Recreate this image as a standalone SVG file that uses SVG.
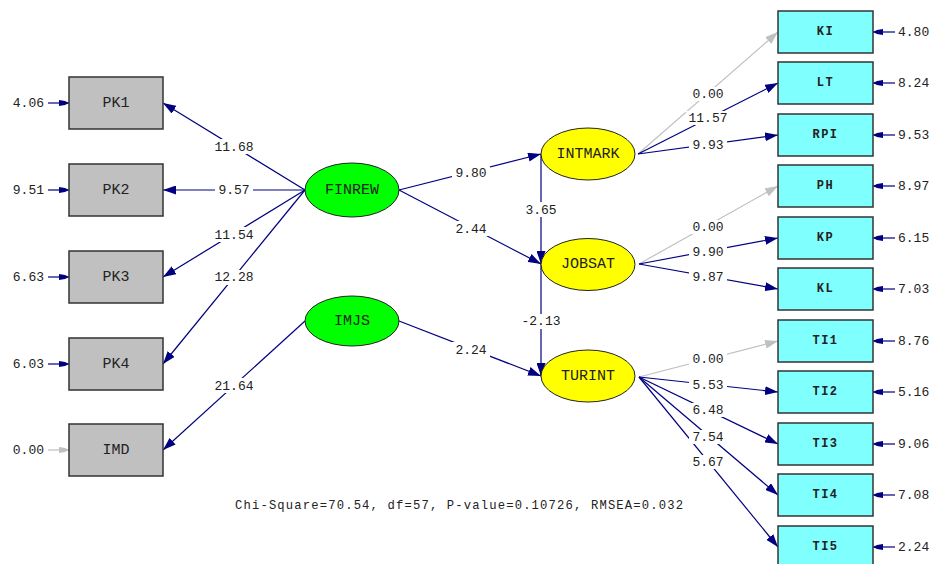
<svg xmlns="http://www.w3.org/2000/svg" width="933" height="564" viewBox="0 0 933 564">
<style>
.bg{fill:#ffffff}
.obs{fill:#c0c0c0;stroke:#333;stroke-width:1.5}
.ind{fill:#80ffff;stroke:#333;stroke-width:1.5}
.lat{fill:#00ff00;stroke:#222;stroke-width:1}
.end{fill:#ffff00;stroke:#222;stroke-width:1}
.nl{font-family:"Liberation Mono",monospace;font-size:15px;fill:#222;text-anchor:middle;dominant-baseline:central}
.rl{font-family:"Liberation Mono",monospace;font-size:12px;font-weight:bold;letter-spacing:1.5px;fill:#222;text-anchor:middle;dominant-baseline:central}
.c{fill:none;stroke:#000080;stroke-width:1.2}
.g{fill:none;stroke:#c0c0c0;stroke-width:1.2}
.lab{font-family:"Liberation Mono",monospace;font-size:13px;fill:#222;text-anchor:middle;dominant-baseline:central}
.lb{fill:#ffffff}
.ev{font-family:"Liberation Mono",monospace;font-size:13px;fill:#222;dominant-baseline:central}
.fit{font-family:"Liberation Mono",monospace;font-size:12.2px;fill:#222}
</style>
<defs>
<marker id="ah" markerUnits="userSpaceOnUse" markerWidth="13" markerHeight="9" refX="13" refY="4.5" orient="auto">
<path d="M0,0 L13,4.5 L0,9 z" fill="#000080"/>
</marker>
<marker id="ahg" markerUnits="userSpaceOnUse" markerWidth="13" markerHeight="9" refX="13" refY="4.5" orient="auto">
<path d="M0,0 L13,4.5 L0,9 z" fill="#c0c0c0"/>
</marker>
<marker id="eh" markerUnits="userSpaceOnUse" markerWidth="12" markerHeight="7" refX="12" refY="3.5" orient="auto">
<path d="M2,0.5 L8,1.5 L12,3.5 L8,5.5 L2,6.5 z" fill="#000080"/>
</marker>
<marker id="ehg" markerUnits="userSpaceOnUse" markerWidth="12" markerHeight="7" refX="12" refY="3.5" orient="auto">
<path d="M2,0.5 L8,1.5 L12,3.5 L8,5.5 L2,6.5 z" fill="#c0c0c0"/>
</marker>
</defs>
<rect class="bg" x="0" y="0" width="933" height="564"/>

<g id="connectors">
<!-- left measurement -->
<line class="c" x1="305" y1="190" x2="163" y2="103" marker-end="url(#ah)"/>
<line class="c" x1="305" y1="190" x2="163" y2="190" marker-end="url(#ah)"/>
<line class="c" x1="305" y1="190" x2="163" y2="277" marker-end="url(#ah)"/>
<line class="c" x1="305" y1="190" x2="163" y2="364" marker-end="url(#ah)"/>
<line class="c" x1="305" y1="321" x2="163" y2="450" marker-end="url(#ah)"/>
<!-- structural -->
<line class="c" x1="399" y1="190" x2="541" y2="154" marker-end="url(#ah)"/>
<line class="c" x1="399" y1="190" x2="541" y2="264" marker-end="url(#ah)"/>
<line class="c" x1="399" y1="321" x2="541" y2="376" marker-end="url(#ah)"/>
<line class="c" x1="541" y1="154" x2="541" y2="264" marker-end="url(#ah)"/>
<line class="c" x1="541" y1="264" x2="541" y2="376" marker-end="url(#ah)"/>
<!-- right measurement -->
<line class="g" x1="638" y1="154" x2="778" y2="32" marker-end="url(#ahg)"/>
<line class="c" x1="638" y1="154" x2="778" y2="83" marker-end="url(#ah)"/>
<line class="c" x1="638" y1="154" x2="778" y2="135" marker-end="url(#ah)"/>
<line class="g" x1="639" y1="264" x2="778" y2="186" marker-end="url(#ahg)"/>
<line class="c" x1="639" y1="264" x2="778" y2="238" marker-end="url(#ah)"/>
<line class="c" x1="639" y1="264" x2="778" y2="289" marker-end="url(#ah)"/>
<line class="g" x1="639" y1="377" x2="778" y2="341" marker-end="url(#ahg)"/>
<line class="c" x1="639" y1="377" x2="778" y2="392" marker-end="url(#ah)"/>
<line class="c" x1="639" y1="377" x2="778" y2="444" marker-end="url(#ah)"/>
<line class="c" x1="639" y1="377" x2="778" y2="495" marker-end="url(#ah)"/>
<line class="c" x1="639" y1="377" x2="778" y2="547" marker-end="url(#ah)"/>
<!-- error arrows left -->
<line class="c" x1="48" y1="103" x2="69" y2="103" marker-end="url(#eh)"/>
<line class="c" x1="48" y1="190" x2="69" y2="190" marker-end="url(#eh)"/>
<line class="c" x1="48" y1="277" x2="69" y2="277" marker-end="url(#eh)"/>
<line class="c" x1="48" y1="364" x2="69" y2="364" marker-end="url(#eh)"/>
<line class="g" x1="48" y1="450" x2="69" y2="450" marker-end="url(#ehg)"/>
<!-- error arrows right -->
<line class="c" x1="895" y1="32" x2="873" y2="32" marker-end="url(#eh)"/>
<line class="c" x1="895" y1="83" x2="873" y2="83" marker-end="url(#eh)"/>
<line class="c" x1="895" y1="135" x2="873" y2="135" marker-end="url(#eh)"/>
<line class="c" x1="895" y1="186" x2="873" y2="186" marker-end="url(#eh)"/>
<line class="c" x1="895" y1="238" x2="873" y2="238" marker-end="url(#eh)"/>
<line class="c" x1="895" y1="289" x2="873" y2="289" marker-end="url(#eh)"/>
<line class="c" x1="895" y1="341" x2="873" y2="341" marker-end="url(#eh)"/>
<line class="c" x1="895" y1="392" x2="873" y2="392" marker-end="url(#eh)"/>
<line class="c" x1="895" y1="444" x2="873" y2="444" marker-end="url(#eh)"/>
<line class="c" x1="895" y1="495" x2="873" y2="495" marker-end="url(#eh)"/>
<line class="c" x1="895" y1="547" x2="873" y2="547" marker-end="url(#eh)"/>

<!-- path labels with white backing -->
<g id="path-labels">
<rect class="lb" x="212" y="139" width="44" height="15"/><text class="lab" x="234" y="147">11.68</text>
<rect class="lb" x="215" y="182" width="38" height="15"/><text class="lab" x="234" y="190">9.57</text>
<rect class="lb" x="212" y="227" width="44" height="15"/><text class="lab" x="234" y="235">11.54</text>
<rect class="lb" x="212" y="270" width="44" height="15"/><text class="lab" x="234" y="277">12.28</text>
<rect class="lb" x="212" y="378" width="44" height="15"/><text class="lab" x="234" y="386">21.64</text>
<rect class="lb" x="452" y="165" width="38" height="15"/><text class="lab" x="471" y="173">9.80</text>
<rect class="lb" x="452" y="221" width="38" height="15"/><text class="lab" x="471" y="229">2.44</text>
<rect class="lb" x="452" y="342" width="38" height="15"/><text class="lab" x="471" y="350">2.24</text>
<rect class="lb" x="522" y="202" width="38" height="15"/><text class="lab" x="541" y="210">3.65</text>
<rect class="lb" x="518" y="314" width="46" height="15"/><text class="lab" x="541" y="321">-2.13</text>
<rect class="lb" x="689" y="87" width="38" height="14"/><text class="lab" x="708" y="94">0.00</text>
<rect class="lb" x="686" y="111" width="44" height="14"/><text class="lab" x="708" y="118">11.57</text>
<rect class="lb" x="689" y="138" width="38" height="14"/><text class="lab" x="708" y="145">9.93</text>
<rect class="lb" x="689" y="220" width="38" height="14"/><text class="lab" x="708" y="227">0.00</text>
<rect class="lb" x="689" y="245" width="38" height="14"/><text class="lab" x="708" y="252">9.90</text>
<rect class="lb" x="689" y="270" width="38" height="14"/><text class="lab" x="708" y="277">9.87</text>
<rect class="lb" x="689" y="352" width="38" height="14"/><text class="lab" x="708" y="359">0.00</text>
<rect class="lb" x="689" y="378" width="38" height="14"/><text class="lab" x="708" y="385">5.53</text>
<rect class="lb" x="689" y="403" width="38" height="14"/><text class="lab" x="708" y="410">6.48</text>
<rect class="lb" x="689" y="430" width="38" height="14"/><text class="lab" x="708" y="437">7.54</text>
<rect class="lb" x="689" y="455" width="38" height="14"/><text class="lab" x="708" y="462">5.67</text>
</g>
</g>

<!-- error variance labels -->
<g id="error-labels">
<text class="ev" x="44" y="103" text-anchor="end">4.06</text>
<text class="ev" x="44" y="190" text-anchor="end">9.51</text>
<text class="ev" x="44" y="277" text-anchor="end">6.63</text>
<text class="ev" x="44" y="364" text-anchor="end">6.03</text>
<text class="ev" x="44" y="450" text-anchor="end">0.00</text>
<text class="ev" x="898" y="32">4.80</text>
<text class="ev" x="898" y="83">8.24</text>
<text class="ev" x="898" y="135">9.53</text>
<text class="ev" x="898" y="186">8.97</text>
<text class="ev" x="898" y="238">6.15</text>
<text class="ev" x="898" y="289">7.03</text>
<text class="ev" x="898" y="341">8.76</text>
<text class="ev" x="898" y="392">5.16</text>
<text class="ev" x="898" y="444">9.06</text>
<text class="ev" x="898" y="495">7.08</text>
<text class="ev" x="898" y="547">2.24</text>
</g>

<!-- left observed -->
<g id="PK1"><rect class="obs" x="69" y="77" width="94" height="52"/><text class="nl" x="116" y="103">PK1</text></g>
<g id="PK2"><rect class="obs" x="69" y="164" width="94" height="52"/><text class="nl" x="116" y="190">PK2</text></g>
<g id="PK3"><rect class="obs" x="69" y="251" width="94" height="52"/><text class="nl" x="116" y="277">PK3</text></g>
<g id="PK4"><rect class="obs" x="69" y="338" width="94" height="52"/><text class="nl" x="116" y="364">PK4</text></g>
<g id="IMD"><rect class="obs" x="69" y="424" width="94" height="52"/><text class="nl" x="116" y="450">IMD</text></g>

<!-- latent -->
<g id="FINREW"><ellipse class="lat" cx="352" cy="190" rx="47" ry="27"/><text class="nl" x="352" y="190">FINREW</text></g>
<g id="IMJS"><ellipse class="lat" cx="352" cy="321" rx="47" ry="25"/><text class="nl" x="352" y="321">IMJS</text></g>
<g id="INTMARK"><ellipse class="end" cx="588" cy="154" rx="47" ry="26"/><text class="nl" x="588" y="154">INTMARK</text></g>
<g id="JOBSAT"><ellipse class="end" cx="588" cy="264.5" rx="47" ry="26"/><text class="nl" x="588" y="264.5">JOBSAT</text></g>
<g id="TURINT"><ellipse class="end" cx="588" cy="376" rx="47" ry="26"/><text class="nl" x="588" y="376">TURINT</text></g>

<!-- right indicators -->
<g id="KI"><rect class="ind" x="778" y="11" width="95" height="42"/><text class="rl" x="825.5" y="32">KI</text></g>
<g id="LT"><rect class="ind" x="778" y="62" width="95" height="42"/><text class="rl" x="825.5" y="83">LT</text></g>
<g id="RPI"><rect class="ind" x="778" y="114" width="95" height="42"/><text class="rl" x="825.5" y="135">RPI</text></g>
<g id="PH"><rect class="ind" x="778" y="165" width="95" height="42"/><text class="rl" x="825.5" y="186">PH</text></g>
<g id="KP"><rect class="ind" x="778" y="217" width="95" height="42"/><text class="rl" x="825.5" y="238">KP</text></g>
<g id="KL"><rect class="ind" x="778" y="268" width="95" height="42"/><text class="rl" x="825.5" y="289">KL</text></g>
<g id="TI1"><rect class="ind" x="778" y="320" width="95" height="42"/><text class="rl" x="825.5" y="341">TI1</text></g>
<g id="TI2"><rect class="ind" x="778" y="371" width="95" height="42"/><text class="rl" x="825.5" y="392">TI2</text></g>
<g id="TI3"><rect class="ind" x="778" y="423" width="95" height="42"/><text class="rl" x="825.5" y="444">TI3</text></g>
<g id="TI4"><rect class="ind" x="778" y="474" width="95" height="42"/><text class="rl" x="825.5" y="495">TI4</text></g>
<g id="TI5"><rect class="ind" x="778" y="526" width="95" height="42"/><text class="rl" x="825.5" y="547">TI5</text></g>

<text class="fit" x="235" y="509" textLength="448">Chi-Square=70.54, df=57, P-value=0.10726, RMSEA=0.032</text>
</svg>
